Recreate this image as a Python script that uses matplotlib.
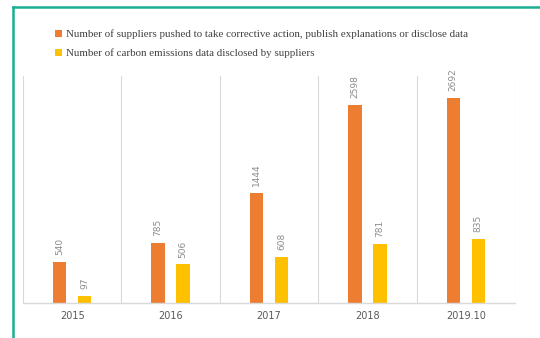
import numpy as np
import matplotlib
matplotlib.use("Agg")
import matplotlib.pyplot as plt
from matplotlib.lines import Line2D

# data
years = ["2015", "2016", "2017", "2018", "2019.10"]
suppliers_pushed = [540, 785, 1444, 2598, 2692]
carbon_disclosed = [97, 506, 608, 781, 835]
legend_labels = [
    "Number of suppliers pushed to take corrective action, publish explanations or disclose data",
    "Number of carbon emissions data disclosed by suppliers",
]

orange = "#ed7d31"
yellow = "#ffc000"
grid_col = "#d9d9d9"
label_col = "#8c8c8c"

fig = plt.figure(figsize=(5.4, 3.38), dpi=100)
ax = fig.add_axes([0.0426, 0.1036, 0.911, 0.671])

x = np.arange(len(years))
w = 0.137
off = 0.127
b1 = ax.bar(x - off, suppliers_pushed, w, color=orange)
b2 = ax.bar(x + off, carbon_disclosed, w, color=yellow)

for bars, vals in ((b1, suppliers_pushed), (b2, carbon_disclosed)):
    for bar, v in zip(bars, vals):
        ax.annotate(str(v), (bar.get_x() + bar.get_width() / 2, bar.get_height()),
                    xytext=(0, 5), textcoords="offset points", rotation=90,
                    ha="center", va="bottom", fontsize=6.5, color=label_col)

# group separators
for i in range(len(years) + 1):
    ax.axvline(i - 0.5, color=grid_col, lw=0.8, zorder=0)

ax.set_xlim(-0.5, len(years) - 0.5)
ax.set_ylim(0, 2980)
ax.set_yticks([])
ax.set_xticks(x)
ax.set_xticklabels(years, fontsize=7, color="#595959")
ax.tick_params(axis="x", length=0, pad=6)
for s in ("top", "left", "right"):
    ax.spines[s].set_visible(False)
ax.spines["bottom"].set_color(grid_col)
ax.spines["bottom"].set_linewidth(1.0)

# legend
leg = fig.legend([b1, b2], legend_labels, loc="upper left",
                 bbox_to_anchor=(0.102, 0.912), frameon=False,
                 prop={"family": "Liberation Serif", "size": 7.9},
                 handlelength=0.6, handleheight=0.6, handletextpad=0.35,
                 labelspacing=0.8, borderaxespad=0, borderpad=0)
for t in leg.get_texts():
    t.set_color("#404040")

# teal frame on top and left
teal = "#1aae92"
fig.add_artist(Line2D([0.024, 1.0], [0.979, 0.979], color=teal, lw=1.8,
                      transform=fig.transFigure))
fig.add_artist(Line2D([0.024, 0.024], [0.0, 0.979], color=teal, lw=1.8,
                      transform=fig.transFigure))

fig.savefig("out.png", dpi=100)
plt.close(fig)
